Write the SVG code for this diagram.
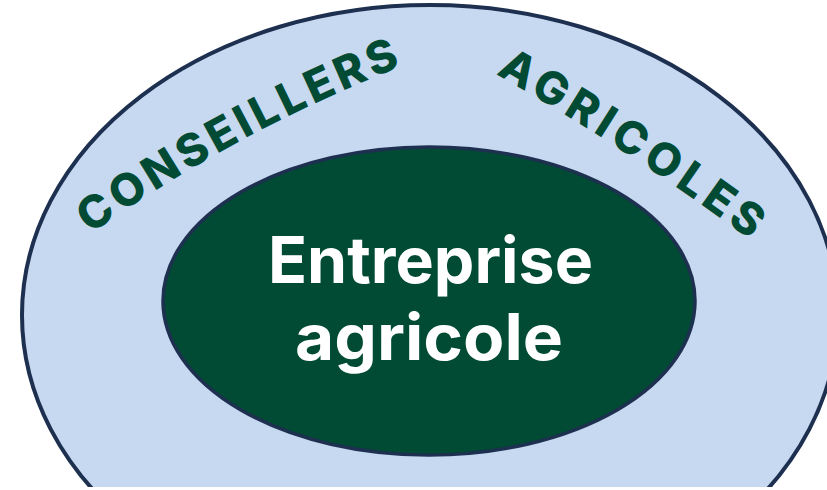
<svg xmlns="http://www.w3.org/2000/svg" width="827" height="490" viewBox="0 0 827 490">
  <defs>
    <style>
      .outer { fill: #c6d9f0; stroke: #1d3050; stroke-width: 4; }
      .inner { fill: #014a34; stroke: #1d3050; stroke-width: 3.5; }
      .arc { font-family: Inter, "Open Sans", sans-serif; font-weight: 800; font-size: 45px; fill: #014a34; }
      .main { font-family: Inter, "Open Sans", sans-serif; font-weight: 700; font-size: 64px; fill: #ffffff; text-anchor: middle; }
    </style>
    <path id="arcLeft" d="M 88 236 Q 233 132 407 64" fill="none"/>
    <path id="arcRight" d="M 494 73 Q 630 150 757 245" fill="none"/>
  </defs>
  <rect width="827" height="490" fill="#ffffff"/>
  <g id="outer-ring">
    <ellipse class="outer" cx="430" cy="315" rx="408" ry="310"/>
  </g>
  <g id="label-conseillers">
    <text class="arc"><textPath href="#arcLeft" startOffset="3" textLength="354" lengthAdjust="spacing">CONSEILLERS</textPath></text>
  </g>
  <g id="label-agricoles">
    <text class="arc"><textPath href="#arcRight" startOffset="2" textLength="304" lengthAdjust="spacing">AGRICOLES</textPath></text>
  </g>
  <g id="inner-core">
    <ellipse class="inner" cx="429" cy="301" rx="266" ry="154"/>
    <text class="main"><tspan x="430.5" y="283" textLength="325" lengthAdjust="spacingAndGlyphs">Entreprise</tspan><tspan x="429" y="360" textLength="268" lengthAdjust="spacingAndGlyphs">agricole</tspan></text>
  </g>
  <rect x="0" y="487" width="827" height="3" fill="#ffffff"/>
</svg>
